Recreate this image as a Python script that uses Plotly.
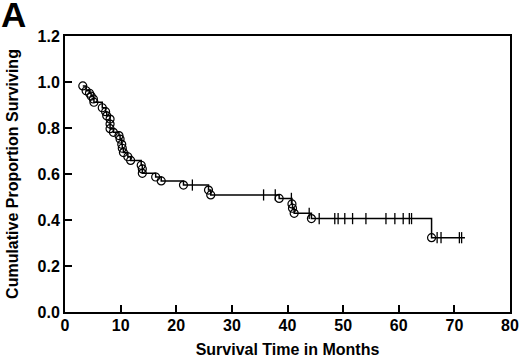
import plotly.graph_objects as go
import numpy as np

# Event times (months) and survival after each event
event_times = [3.2, 3.8, 4.4, 4.7, 5.1, 5.2, 6.7, 7.3, 7.5, 8.1, 8.1, 8.1, 8.7, 9.7, 9.9,
               10.2, 10.3, 10.5, 11.3, 11.8, 13.7, 13.9, 13.9, 16.3, 17.3, 21.3, 25.8,
               26.2, 38.5, 40.8, 40.9, 41.2, 44.3, 65.9]
event_surv = [0.983, 0.962, 0.951, 0.939, 0.926, 0.912, 0.888, 0.871, 0.853, 0.839, 0.817,
              0.797, 0.781, 0.767, 0.752, 0.729, 0.712, 0.693, 0.675, 0.659, 0.638, 0.622,
              0.603, 0.587, 0.570, 0.552, 0.530, 0.509, 0.494, 0.470, 0.451, 0.429, 0.406,
              0.323]
# Censored observation times (months)
censor_times = [22.9, 35.7, 37.8, 40.7, 43.9, 45.7, 48.5, 49.1, 50.3, 51.7, 54.1, 57.7,
                59.3, 60.8, 61.9, 62.3, 66.9, 67.6, 70.9, 71.3]
end_time = 71.9

x_ticks = [0, 10, 20, 30, 40, 50, 60, 70, 80]
y_ticks = [0.0, 0.2, 0.4, 0.6, 0.8, 1.0, 1.2]
y_tick_text = ["0.0", "0.2", "0.4", "0.6", "0.8", "1.0", "1.2"]


def surv_at(t):
    s = 1.0
    for et, es in zip(event_times, event_surv):
        if et <= t:
            s = es
    return s


censor_surv = [surv_at(t) for t in censor_times]

# Step curve
line_x = list(event_times) + [end_time]
line_y = list(event_surv) + [surv_at(end_time)]

fig = go.Figure()
fig.add_trace(go.Scatter(x=line_x, y=line_y, mode="lines", line=dict(shape="hv", color="black", width=1.5),
                         hoverinfo="skip", showlegend=False))
fig.add_trace(go.Scatter(x=censor_times, y=censor_surv, mode="markers",
                         marker=dict(symbol="line-ns", size=8, line=dict(color="black", width=1.3)),
                         showlegend=False))
fig.add_trace(go.Scatter(x=event_times, y=event_surv, mode="markers",
                         marker=dict(symbol="circle-open", size=8, color="black", line=dict(width=1.2)),
                         showlegend=False))

font_fam = "Liberation Sans, Arial, Helvetica, sans-serif"
fig.update_layout(
    width=520, height=358,
    margin=dict(l=65, r=10, t=36, b=46, autoexpand=False),
    paper_bgcolor="white", plot_bgcolor="white",
    font=dict(family=font_fam, color="black", size=16),
    xaxis=dict(range=[0, 80], tickvals=x_ticks, ticks="inside", ticklen=7, tickwidth=1.5,
               tickcolor="black", showline=True, linecolor="black", linewidth=2, mirror=True,
               showgrid=False, zeroline=False, automargin=False, ticklabelstandoff=-2,
               tickfont=dict(family=font_fam, size=16, weight="bold"),
               title=dict(text="<b>Survival Time in Months</b>", font=dict(size=16), standoff=11)),
    yaxis=dict(range=[0, 1.2], tickvals=y_ticks, ticktext=y_tick_text, ticks="inside", ticklen=7,
               tickwidth=1.5, tickcolor="black", showline=True, linecolor="black", linewidth=2,
               mirror=True, showgrid=False, zeroline=False, automargin=False,
               tickfont=dict(family=font_fam, size=16, weight="bold"),
               title=dict(text="<b>Cumulative Proportion Surviving</b>", font=dict(size=16), standoff=15)),
    annotations=[dict(text="<b>A</b>", xref="paper", yref="paper", x=-0.116, y=1.077,
                      xanchor="center", yanchor="middle", showarrow=False,
                      font=dict(family=font_fam, size=35, color="black"))],
)

fig.write_html("out.html", config={"displayModeBar": False},
               post_script="document.body.style.margin='0';document.body.style.padding='0';")
